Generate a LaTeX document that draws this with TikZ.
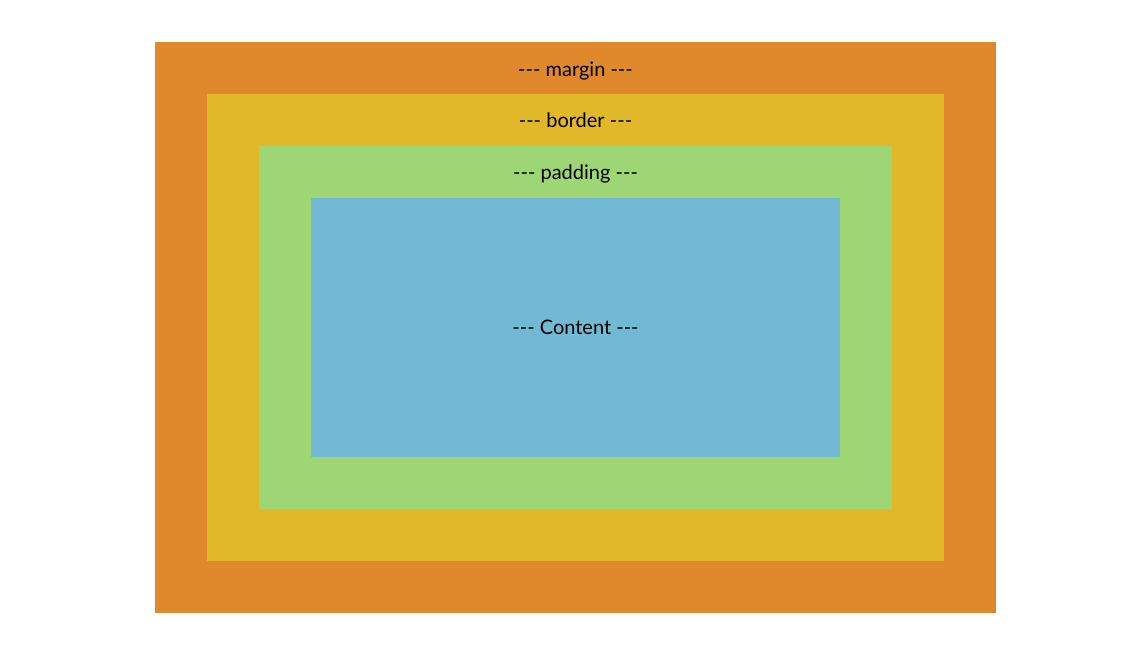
\documentclass[tikz,border=0pt]{standalone}
\usepackage{fontspec}
\setmainfont{Lato}
\usepackage{xcolor}
\usepackage{tikz}
\usetikzlibrary{positioning}
\definecolor{marginc}{HTML}{E0882C}
\definecolor{borderc}{HTML}{E0B82A}
\definecolor{paddingc}{HTML}{9ED675}
\definecolor{contentc}{HTML}{72BAD4}
\tikzset{
  layer/.style={inner sep=0pt,outer sep=0pt,anchor=center},
  tag/.style={font=\fontsize{20}{24}\selectfont,inner sep=0pt}
}

\begin{document}
\begin{tikzpicture}[x=1pt,y=-1pt]
  \useasboundingbox (0,0) rectangle (1125,665);
  \node[layer,fill=marginc,minimum width=841pt,minimum height=571pt] (margin) at (575.5,327.5) {};
  \node[layer,fill=borderc,minimum width=737pt,minimum height=467pt] (border) at (575.5,327.5) {};
  \node[layer,fill=paddingc,minimum width=633pt,minimum height=363pt] (padding) at (575.5,327.5) {};
  \node[layer,fill=contentc,minimum width=529pt,minimum height=259pt,tag] (content) at (575.5,327.5) {-{}-{}- Content -{}-{}-};
  \node[tag,below=20pt of margin.north] (marginlbl) {-{}-{}- margin -{}-{}-};
  \node[tag,below=19pt of border.north] (borderlbl) {-{}-{}- border -{}-{}-};
  \node[tag,below=19pt of padding.north] (paddinglbl) {-{}-{}- padding -{}-{}-};
\end{tikzpicture}
\end{document}
